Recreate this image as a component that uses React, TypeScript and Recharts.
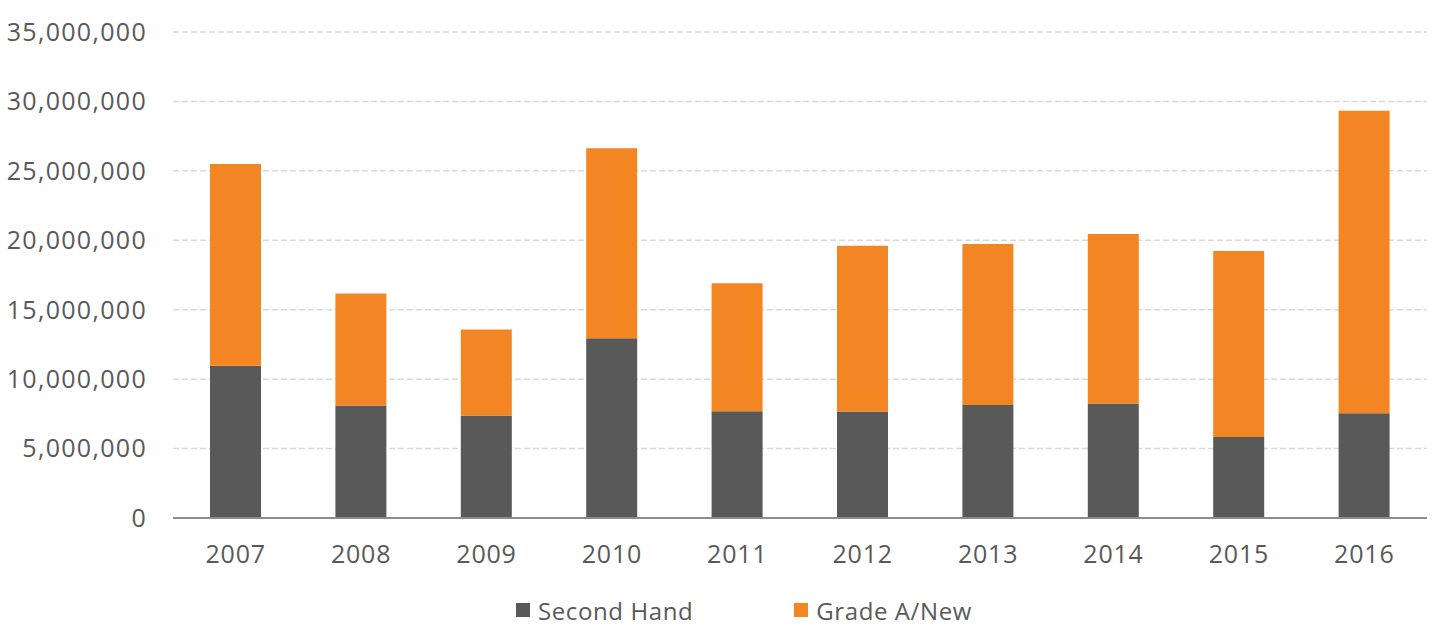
import React from 'react';
import { BarChart, Bar, XAxis, YAxis, CartesianGrid, Legend } from 'recharts';

const years = ['2007', '2008', '2009', '2010', '2011', '2012', '2013', '2014', '2015', '2016'];
const secondHand = [10960000, 8100000, 7380000, 12950000, 7680000, 7670000, 8130000, 8240000, 5830000, 7550000];
const gradeANew = [14530000, 8060000, 6190000, 13670000, 9230000, 11940000, 11600000, 12210000, 13400000, 21770000];
const yTicks = [0, 5000000, 10000000, 15000000, 20000000, 25000000, 30000000, 35000000];

const seriesNames = ['Second Hand', 'Grade A/New'];
const seriesColors = ['#595959', '#F38622'];

const data = years.map((y, i) => ({ year: y, secondHand: secondHand[i], gradeANew: gradeANew[i] }));

const FONT = '"Open Sans", sans-serif';
const TEXT = '#595959';

const fmt = (v: number) => v.toLocaleString('en-US');

const LegendContent = () => (
  <div style={{ display: 'flex', justifyContent: 'flex-start', alignItems: 'center', paddingLeft: 516, fontFamily: FONT, fontSize: 24, letterSpacing: 0.6, color: TEXT, height: 34 }}>
    {seriesNames.map((n, i) => (
      <div key={n} style={{ display: 'flex', alignItems: 'center', marginRight: i === 0 ? 101 : 0 }}>
        <span style={{ display: 'inline-block', width: 14, height: 14, background: seriesColors[i], marginRight: 8 }} />
        <span>{n}</span>
      </div>
    ))}
  </div>
);

export default function App() {
  return (
    <div style={{ position: 'absolute', left: 0, top: 0, width: 1440, height: 633, background: '#fff' }}>
      <BarChart width={1440} height={633} data={data} margin={{ top: 32, right: 13, left: 0, bottom: 0 }} barSize={51}>
        <CartesianGrid vertical={false} stroke="#d9d9d9" strokeWidth={1.5} strokeDasharray="6 3" />
        <XAxis
          dataKey="year"
          height={75}
          tickSize={0}
          tickMargin={27}
          axisLine={{ stroke: '#8c8c8c', strokeWidth: 2 }}
          tick={{ fill: TEXT, fontSize: 25, fontFamily: FONT, letterSpacing: 0.8 }}
        />
        <YAxis
          width={173}
          domain={[0, 35000000]}
          ticks={yTicks}
          interval={0}
          tickFormatter={fmt}
          tickSize={0}
          tickMargin={26}
          axisLine={false}
          tick={{ fill: TEXT, fontSize: 25, fontFamily: FONT, letterSpacing: 1.3 }}
        />
        <Legend verticalAlign="bottom" height={40} content={<LegendContent />} />
        <Bar dataKey="secondHand" name={seriesNames[0]} stackId="a" fill={seriesColors[0]} isAnimationActive={false} />
        <Bar dataKey="gradeANew" name={seriesNames[1]} stackId="a" fill={seriesColors[1]} isAnimationActive={false} />
      </BarChart>
    </div>
  );
}
